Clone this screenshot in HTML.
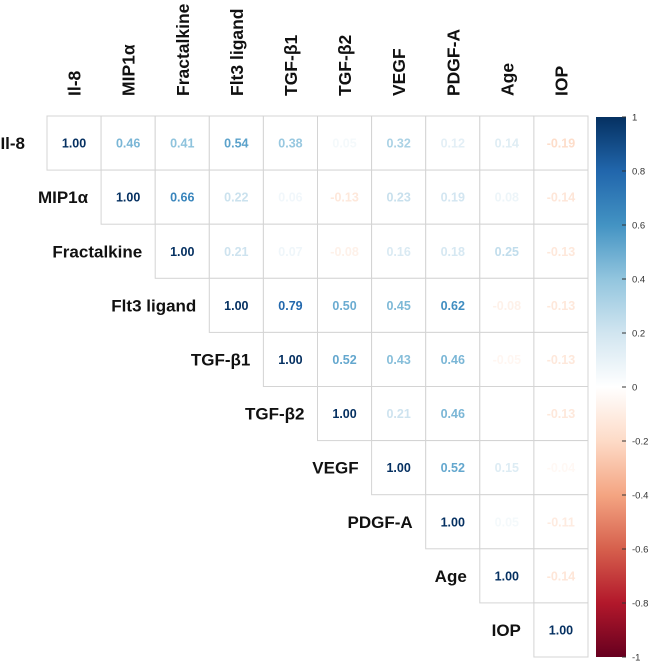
<!DOCTYPE html>
<html><head><meta charset="utf-8"><style>
html,body{margin:0;padding:0;background:#fff;}
svg{display:block;font-family:"Liberation Sans",Arial,sans-serif;}
</style></head><body>
<svg id="chart" width="650" height="664" viewBox="0 0 650 664">
<defs>
<linearGradient id="cbar" x1="0" y1="0" x2="0" y2="1">
<stop offset="0" stop-color="#053061"/><stop offset="0.1" stop-color="#2166AC"/><stop offset="0.2" stop-color="#4393C3"/><stop offset="0.3" stop-color="#92C5DE"/><stop offset="0.4" stop-color="#D1E5F0"/><stop offset="0.5" stop-color="#FFFFFF"/><stop offset="0.6" stop-color="#FDDBC7"/><stop offset="0.7" stop-color="#F4A582"/><stop offset="0.8" stop-color="#D6604D"/><stop offset="0.9" stop-color="#B2182B"/><stop offset="1" stop-color="#67001F"/>
</linearGradient>
</defs>
<g id="cells"></g>
<g id="labels"></g>
<g id="legend"></g>
</svg>
<script>
const variables = ["Il-8","MIP1\u03b1","Fractalkine","Flt3 ligand","TGF-\u03b21","TGF-\u03b22","VEGF","PDGF-A","Age","IOP"];
const row0 = [1.00,0.46,0.41,0.54,0.38,0.05,0.32,0.12,0.14,-0.19];
const row1 = [1.00,0.66,0.22,0.06,-0.13,0.23,0.19,0.08,-0.14];
const row2 = [1.00,0.21,0.07,-0.08,0.16,0.18,0.25,-0.13];
const row3 = [1.00,0.79,0.50,0.45,0.62,-0.08,-0.13];
const row4 = [1.00,0.52,0.43,0.46,-0.05,-0.13];
const row5 = [1.00,0.21,0.46,0.00,-0.13];
const row6 = [1.00,0.52,0.15,-0.04];
const row7 = [1.00,0.05,-0.11];
const row8 = [1.00,-0.14];
const row9 = [1.00];
const rows = [row0,row1,row2,row3,row4,row5,row6,row7,row8,row9];
const legendTicks = [1,0.8,0.6,0.4,0.2,0,-0.2,-0.4,-0.6,-0.8,-1];

const NS="http://www.w3.org/2000/svg";
const x0=47,y0=116,cw=54.1,ch=54.1;
const colX=i=>x0+i*cw, rowY=i=>y0+i*ch;
const palette=["#67001F","#B2182B","#D6604D","#F4A582","#FDDBC7","#FFFFFF","#D1E5F0","#92C5DE","#4393C3","#2166AC","#053061"];
function hex(h){return [1,3,5].map(i=>parseInt(h.substr(i,2),16));}
function color(v){
  const t=(v+1)/2*10; const i=Math.min(9,Math.floor(t)); const f=t-i;
  const a=hex(palette[i]),b=hex(palette[i+1]);
  return "rgb("+a.map((c,k)=>Math.round(c+(b[k]-c)*f)).join(",")+")";
}
function mk(tag,attrs,parent){const e=document.createElementNS(NS,tag);for(const k in attrs)e.setAttribute(k,attrs[k]);parent.appendChild(e);return e;}
const cells=document.getElementById("cells"),labels=document.getElementById("labels"),legend=document.getElementById("legend");

rows.forEach((r,i)=>{
  r.forEach((v,k)=>{
    const j=i+k;
    const rc=mk("rect",{x:colX(j),y:rowY(i),width:cw,height:ch,fill:"#fff",stroke:"#d4d4d4","stroke-width":1},cells);
    
    
    const t=mk("text",{x:colX(j)+cw/2,y:rowY(i)+ch/2+4.5,"text-anchor":"middle","font-size":12.5,"font-weight":"bold",fill:Math.abs(v)<0.02?"#ffffff":color(v)},cells);
    t.textContent=v.toFixed(2);
    
    
  });
});
variables.forEach((name,i)=>{
  const cx=colX(i)+cw/2;
  const t=mk("text",{transform:"translate("+(cx+6.5)+",96) rotate(-90)","font-size":17.5,"font-weight":"bold",fill:"#111"},labels);
  t.textContent=name;
  
  
  const r=mk("text",{x:i===0?25:colX(i)-13,y:rowY(i)+ch/2+6,"text-anchor":"end","font-size":17,"font-weight":"bold",fill:"#111"},labels);
  r.textContent=name;
  
  
});
const by0=117,by1=657,bx=596,bw=30;
const bar=mk("rect",{x:bx,y:by0,width:bw,height:by1-by0,fill:"url(#cbar)"},legend);


legendTicks.forEach(v=>{
  const y=by0+(1-v)/2*(by1-by0);
  const l=mk("line",{x1:bx+bw-4,x2:bx+bw,y1:y,y2:y,stroke:"#333","stroke-width":1},legend);
  
  
  const t=mk("text",{x:632,y:y+3.5,"font-size":9.5,fill:"#333"},legend);
  t.textContent=String(v);
  
  
});
</script>
</body></html>
